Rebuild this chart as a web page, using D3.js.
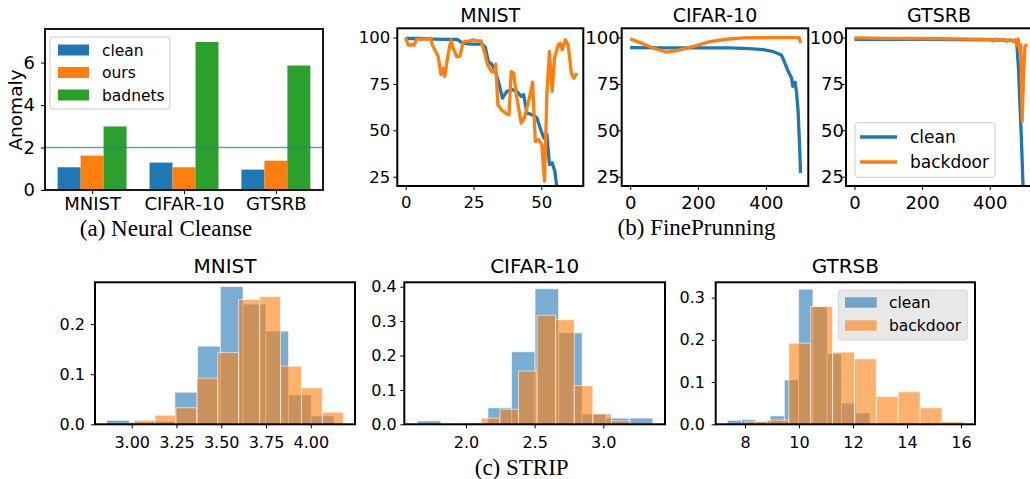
<!DOCTYPE html>
<html>
<head>
<meta charset="utf-8">
<script src="https://cdn.jsdelivr.net/npm/d3@7"></script>
<style>
  body { margin: 0; background: #fff; }
  text { font-family: "DejaVu Sans", sans-serif; }
  .cap { font-family: "Liberation Serif", "Times New Roman", serif; }
</style>
</head>
<body>
<svg id="fig" width="1030" height="479"></svg>
<script>
// (a) Neural Cleanse
const ncCategories = ['MNIST', 'CIFAR-10', 'GTSRB'];
const ncClean = [1.07, 1.29, 0.96];
const ncOurs = [1.62, 1.07, 1.38];
const ncBadnets = [2.99, 6.97, 5.86];
const ncThreshold = 2;

// (b) FinePrunning
const fpMnistCleanX = [0, 5, 10, 15, 19, 21, 24, 28, 29.3, 30.5, 31.7, 33, 34.2, 35.7, 37.3, 39.1, 41, 42.6, 43.5, 44.7, 46.5, 48.4, 49.6, 50.9, 52.1, 53, 54, 55, 56.5];
const fpMnistCleanY = [99.5, 99.5, 99.2, 99, 99, 97, 96.5, 96.5, 95, 87, 85.7, 82, 76.4, 67.4, 71, 72, 71, 68.3, 69.2, 59.4, 58.5, 56.7, 51.3, 45.9, 47.7, 31.6, 32.5, 28, 10];
const fpMnistBackX = [0, 0.9, 2.1, 3.1, 4, 8.3, 9.3, 9.8, 10.7, 12, 13, 13.8, 14.4, 15.4, 16.7, 17.5, 18.8, 20, 21.2, 22.5, 23.7, 24.9, 26.2, 27.8, 29, 30.2, 31.7, 32.7, 33.2, 34, 35.4, 37.3, 38.1, 38.9, 39.8, 41, 42.6, 43.8, 44.7, 45.9, 46.8, 47.8, 49, 50.2, 51.2, 52.1, 53, 54, 54.9, 56.2, 57, 57.7, 58.9, 59.9, 61.1, 62, 63.2];
const fpMnistBackY = [100, 96, 96, 96, 99, 99.3, 99.7, 96, 93.4, 89.8, 80, 83.5, 79, 88.9, 98.8, 94.3, 89.8, 89.8, 97.5, 97.9, 98.2, 98.8, 98.2, 98.2, 92.5, 85.3, 81.7, 81.7, 85.7, 63.8, 61, 58.8, 58.4, 81.7, 80.8, 67.4, 53.9, 56.7, 62, 69.2, 76, 44, 45, 42.3, 22.6, 71, 92.5, 71, 88.9, 96, 97, 93.4, 98.8, 96, 80.8, 78.2, 80.8];
const fpCifarCleanX = [0, 100, 200, 294, 350, 392, 422, 446, 456, 466, 476, 479, 486, 490, 495, 497, 500, 502];
const fpCifarCleanY = [94.6, 94.5, 94.5, 94.4, 94, 93.5, 92.4, 90.6, 86.2, 81.7, 78.1, 73.7, 76, 71, 60.2, 51.3, 38.7, 27.1];
const fpCifarBackX = [0, 29, 69, 108, 137, 167, 196, 235, 284, 333, 400, 498, 502];
const fpCifarBackY = [99.3, 97.3, 94.3, 92.1, 93, 94.3, 95.7, 97.8, 99.1, 99.8, 100, 100, 97];
const fpGtsrbCleanX = [0, 200, 400, 470, 480, 485, 489, 494, 499, 503];
const fpGtsrbCleanY = [99, 99, 98.8, 98.5, 97, 83.5, 65.6, 44, 17, 5];
const fpGtsrbBackX = [0, 100, 200, 300, 400, 410, 420, 430, 440, 450, 460, 470, 476, 480, 484, 489, 492, 496, 500, 504, 510];
const fpGtsrbBackY = [99.8, 99.6, 99.5, 99.3, 99, 98.2, 99.2, 98.4, 99, 98, 98.8, 97.9, 98.8, 96, 99.3, 92.5, 96, 55, 80, 95, 96.5];

// (c) STRIP histograms: [first edge, last edge] and bin heights
const stripMnistCleanRange = [2.86, 4.13];
const stripMnistClean = [0.008, 0.004, 0.006, 0.064, 0.156, 0.275, 0.24, 0.186, 0.059, 0.017];
const stripMnistBackRange = [3.013, 4.182];
const stripMnistBack = [0.008, 0.018, 0.033, 0.092, 0.143, 0.249, 0.255, 0.116, 0.073, 0.024];
const stripCifarCleanRange = [1.646, 3.36];
const stripCifarClean = [0.01, 0, 0, 0.048, 0.211, 0.394, 0.266, 0.03, 0.018, 0.018];
const stripCifarBackRange = [1.976, 3.33];
const stripCifarBack = [0.004, 0.018, 0.044, 0.155, 0.317, 0.304, 0.112, 0.03, 0.01, 0];
const stripGtsrbCleanRange = [7.345, 12.63];
const stripGtsrbClean = [0.0095, 0.011, 0.007, 0.02, 0.105, 0.32, 0.278, 0.167, 0.05, 0.027];
const stripGtsrbBackRange = [8.0, 16.11];
const stripGtsrbBack = [0.006, 0.01, 0.192, 0.279, 0.171, 0.155, 0.066, 0.077, 0.039, 0.006];

const BLUE = '#1f77b4', ORANGE = '#ff7f0e', GREEN = '#2ca02c';
const svg = d3.select('#fig');
let clipCount = 0;

function axes(box, xDom, yDom) {
    const id = 'clip' + (clipCount++);
    svg.append('clipPath').attr('id', id).append('rect')
        .attr('x', box.x0).attr('y', box.y0)
        .attr('width', box.x1 - box.x0).attr('height', box.y1 - box.y0);
    const g = svg.append('g');
    return {
        box, g,
        plot: g.append('g').attr('clip-path', `url(#${id})`),
        x: d3.scaleLinear().domain(xDom).range([box.x0, box.x1]),
        y: d3.scaleLinear().domain(yDom).range([box.y1, box.y0]),
    };
}

function decorate(ax, o) {
    const xa = d3.axisBottom(ax.x).tickValues(o.xTicks).tickSize(4).tickPadding(o.xPad);
    if (o.xFmt) xa.tickFormat(o.xFmt);
    const ya = d3.axisLeft(ax.y).tickValues(o.yTicks).tickSize(4).tickPadding(o.yPad);
    if (o.yFmt) ya.tickFormat(o.yFmt);

    const gx = ax.g.append('g').attr('transform', `translate(0,${ax.box.y1})`).call(xa);
    const gy = ax.g.append('g').attr('transform', `translate(${ax.box.x0},0)`).call(ya);
    [gx, gy].forEach(a => {
        a.attr('font-family', null).attr('font-size', o.fs);
        a.select('.domain').remove();
        a.selectAll('line').attr('stroke', '#000').attr('stroke-width', 1);
    });

    ax.g.append('rect')
        .attr('x', ax.box.x0).attr('y', ax.box.y0)
        .attr('width', ax.box.x1 - ax.box.x0).attr('height', ax.box.y1 - ax.box.y0)
        .attr('fill', 'none').attr('stroke', '#000').attr('stroke-width', o.frame || 2);

    if (o.title) {
        ax.g.append('text')
            .attr('x', (ax.box.x0 + ax.box.x1) / 2).attr('y', o.titleY)
            .attr('text-anchor', 'middle').attr('font-size', o.titleFs)
            .text(o.title);
    }
}

function caption(x, y, txt) {
    svg.append('text').attr('class', 'cap')
        .attr('x', x).attr('y', y).attr('text-anchor', 'middle')
        .attr('font-size', 23).text(txt);
}

// ---------- (a) Neural Cleanse ----------
{
    const ax = axes({x0: 45, x1: 323, y0: 29, y1: 190}, [-0.5125, 2.5125], [0, 7.58]);
    const bw = 0.25;
    [[ncClean, BLUE, -bw], [ncOurs, ORANGE, 0], [ncBadnets, GREEN, bw]].forEach(([vals, color, off]) => {
        ax.plot.selectAll(null).data(vals).enter().append('rect')
            .attr('x', (d, i) => ax.x(i + off - bw / 2))
            .attr('width', ax.x(bw) - ax.x(0))
            .attr('y', d => ax.y(d))
            .attr('height', d => ax.y(0) - ax.y(d))
            .attr('fill', color);
    });
    ax.plot.append('line')
        .attr('x1', ax.box.x0).attr('x2', ax.box.x1)
        .attr('y1', ax.y(ncThreshold)).attr('y2', ax.y(ncThreshold))
        .attr('stroke', BLUE).attr('stroke-opacity', 0.7).attr('stroke-width', 1.5);

    decorate(ax, {
        xTicks: [0, 1, 2], xFmt: i => ncCategories[i], xPad: 3,
        yTicks: [0, 2, 4, 6], yPad: 6, fs: 18, frame: 1.8,
    });
    ax.g.append('text')
        .attr('transform', 'translate(22,110) rotate(-90)')
        .attr('text-anchor', 'middle').attr('font-size', 18.5).text('Anomaly');

    const lg = ax.g.append('g');
    lg.append('rect').attr('x', 50).attr('y', 37).attr('width', 120).attr('height', 72)
        .attr('rx', 3).attr('fill', '#fff').attr('fill-opacity', 0.8).attr('stroke', '#ccc');
    [['clean', BLUE], ['ours', ORANGE], ['badnets', GREEN]].forEach(([name, color], i) => {
        const cy = 50 + i * 22.5;
        lg.append('rect').attr('x', 58).attr('y', cy - 5.5).attr('width', 31).attr('height', 11).attr('fill', color);
        lg.append('text').attr('x', 102).attr('y', cy + 5.5).attr('font-size', 15.5).text(name);
    });
    caption(166, 236, '(a) Neural Cleanse');
}

// ---------- (b) FinePrunning ----------
function linePanel(box, xDom, series, o) {
    const ax = axes(box, xDom, [20, 105]);
    const line = d3.line().x(d => ax.x(d[0])).y(d => ax.y(d[1]));
    series.forEach(([xs, ys, color]) => {
        ax.plot.append('path')
            .datum(xs.map((x, i) => [x, ys[i]]))
            .attr('d', line).attr('fill', 'none')
            .attr('stroke', color).attr('stroke-width', 3.3)
            .attr('stroke-linejoin', 'round');
    });
    decorate(ax, Object.assign({yTicks: [25, 50, 75, 100], xPad: 6.5, titleY: 22, titleFs: 19}, o));
    return ax;
}

linePanel({x0: 397.3, x1: 583.3, y0: 28.3, y1: 186}, [-3.1, 65.5],
    [[fpMnistCleanX, fpMnistCleanY, BLUE], [fpMnistBackX, fpMnistBackY, ORANGE]],
    {xTicks: [0, 25, 50], yPad: 3, fs: 16.5, title: 'MNIST'});
linePanel({x0: 621.7, x1: 808.3, y0: 28.3, y1: 186}, [-25, 525],
    [[fpCifarCleanX, fpCifarCleanY, BLUE], [fpCifarBackX, fpCifarBackY, ORANGE]],
    {xTicks: [0, 200, 400], yPad: -2, fs: 18, title: 'CIFAR-10'});
const gt = linePanel({x0: 846, x1: 1032, y0: 28.3, y1: 186}, [-25, 525],
    [[fpGtsrbCleanX, fpGtsrbCleanY, BLUE], [fpGtsrbBackX, fpGtsrbBackY, ORANGE]],
    {xTicks: [0, 200, 400], yPad: -2, fs: 18, title: 'GTSRB'});
{
    const lg = gt.g.append('g');
    lg.append('rect').attr('x', 855).attr('y', 122.7).attr('width', 140).attr('height', 54.6)
        .attr('rx', 3).attr('fill', '#fff').attr('fill-opacity', 0.8).attr('stroke', '#ccc');
    [['clean', BLUE], ['backdoor', ORANGE]].forEach(([name, color], i) => {
        const cy = 137 + i * 25;
        lg.append('line').attr('x1', 860).attr('x2', 897).attr('y1', cy).attr('y2', cy)
            .attr('stroke', color).attr('stroke-width', 3.3);
        lg.append('text').attr('x', 910).attr('y', cy + 6).attr('font-size', 17).text(name);
    });
}
caption(696.5, 235, '(b) FinePrunning');

// ---------- (c) STRIP ----------
function bins(range, heights) {
    const w = (range[1] - range[0]) / heights.length;
    return heights.map((h, i) => ({x0: range[0] + i * w, x1: range[0] + (i + 1) * w, h}))
        .filter(b => b.h > 0);
}

function histPanel(box, xDom, yDom, clean, back, o) {
    const ax = axes(box, xDom, yDom);
    [[clean, BLUE], [back, ORANGE]].forEach(([data, color]) => {
        ax.plot.selectAll(null).data(data).enter().append('rect')
            .attr('x', d => ax.x(d.x0)).attr('width', d => ax.x(d.x1) - ax.x(d.x0))
            .attr('y', d => ax.y(d.h)).attr('height', d => ax.y(0) - ax.y(d.h))
            .attr('fill', color).attr('fill-opacity', 0.6)
            .attr('stroke', '#fff').attr('stroke-opacity', 0.6).attr('stroke-width', 1);
    });
    decorate(ax, Object.assign({xPad: 8.5, fs: 16, titleY: 273.3, titleFs: 20, yFmt: d3.format('.1f')}, o));
    return ax;
}

const hb = {y0: 282.3, y1: 424.3};
histPanel(Object.assign({x0: 95, x1: 355}, hb), [2.795, 4.247], [0, 0.2834],
    bins(stripMnistCleanRange, stripMnistClean), bins(stripMnistBackRange, stripMnistBack),
    {xTicks: [3, 3.25, 3.5, 3.75, 4], xFmt: d3.format('.2f'), yTicks: [0, 0.1, 0.2], yPad: 6, title: 'MNIST'});
histPanel(Object.assign({x0: 404.3, x1: 665}, hb), [1.551, 3.449], [0, 0.4128],
    bins(stripCifarCleanRange, stripCifarClean), bins(stripCifarBackRange, stripCifarBack),
    {xTicks: [2, 2.5, 3], xFmt: d3.format('.1f'), yTicks: [0, 0.1, 0.2, 0.3, 0.4], yPad: 3.6, title: 'CIFAR-10'});
const hg = histPanel(Object.assign({x0: 715.7, x1: 975}, hb), [6.915, 16.52], [0, 0.3363],
    bins(stripGtsrbCleanRange, stripGtsrbClean), bins(stripGtsrbBackRange, stripGtsrbBack),
    {xTicks: [8, 10, 12, 14, 16], xFmt: d3.format('d'), yTicks: [0, 0.1, 0.2, 0.3], yPad: 6.7, title: 'GTRSB'});
{
    const lg = hg.g.append('g');
    lg.append('rect').attr('x', 838.3).attr('y', 290).attr('width', 129).attr('height', 50)
        .attr('rx', 3).attr('fill', '#e8e8e8').attr('stroke', '#d6d6d6');
    [['clean', BLUE], ['backdoor', ORANGE]].forEach(([name, color], i) => {
        const cy = 302.5 + i * 23;
        lg.append('rect').attr('x', 845).attr('y', cy - 5.2).attr('width', 31.7).attr('height', 10.4)
            .attr('fill', color).attr('fill-opacity', 0.6);
        lg.append('text').attr('x', 889).attr('y', cy + 5.5).attr('font-size', 15.5).text(name);
    });
}
caption(521.7, 475, '(c) STRIP');
</script>
</body>
</html>
